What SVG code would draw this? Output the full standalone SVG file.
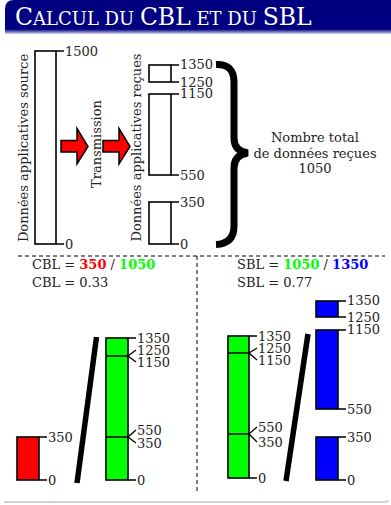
<svg xmlns="http://www.w3.org/2000/svg" width="391" height="505" viewBox="0 0 391 505">
<defs>
<linearGradient id="tg" x1="0" y1="0" x2="0" y2="1">
<stop offset="0" stop-color="#000080"/>
<stop offset="0.86" stop-color="#000080"/>
<stop offset="1" stop-color="#d4d4ee"/>
</linearGradient>
<style>
text{font-family:"DejaVu Serif","Liberation Serif",serif;font-size:13px;fill:#222}
.title{fill:#fff;font-size:18px}
.big{font-size:23.5px}
.box{stroke:#000;stroke-width:1.6;fill:#fff}
.tick{stroke:#000;stroke-width:1.3;fill:none}
.r{fill:#ff0000}.g{fill:#00ff00}.b{fill:#0000ff}
.bold{font-weight:bold}
.dash{stroke:#000;stroke-width:1;stroke-dasharray:4,3;fill:none}
.slash{stroke:#000;stroke-width:5.5}
.arrow{fill:#ff0000;stroke:#000;stroke-width:1.5;stroke-linejoin:miter}
</style>
</defs>
<g id="titlebar">
<path d="M5,34 L5,9 Q5,0 14,0 L391,0 L391,34 Z" fill="url(#tg)"/>
<text class="title" x="15" y="25"><tspan class="big">C</tspan>ALCUL DU <tspan class="big">CBL</tspan> ET DU <tspan class="big">SBL</tspan></text>
</g>
<path d="M4,502 L386,502 Q388,502 388,500" stroke="#c4c4c4" stroke-width="1.5" fill="none"/>
<g id="source">
<rect class="box" x="35" y="51" width="21" height="193"/>
<path class="tick" d="M56,51H64M56,244H64"/>
<text x="65" y="56">1500</text>
<text x="65" y="249">0</text>
<text transform="translate(27.5,148) rotate(-90)" text-anchor="middle">Données applicatives source</text>
</g>
<g id="transmission">
<polygon class="arrow" points="61,140.5 77,140.5 77,128.5 88,146.5 77,164 77,152 61,152"/>
<text transform="translate(100.5,144) rotate(-90)" text-anchor="middle">Transmission</text>
<polygon class="arrow" points="103,140.5 119,140.5 119,128.5 130,146.5 119,164 119,152 103,152"/>
</g>
<g id="received">
<text transform="translate(140.5,147.5) rotate(-90)" text-anchor="middle">Données applicatives reçues</text>
<rect class="box" x="149" y="65" width="22" height="17"/>
<rect class="box" x="149" y="94" width="22" height="81"/>
<rect class="box" x="149" y="202" width="22" height="42"/>
<path class="tick" d="M171,65H179M171,82H179M171,94H179M171,175H179M171,202H179M171,244H179"/>
<text x="180" y="69">1350</text>
<text x="180" y="87">1250</text>
<text x="180" y="98">1150</text>
<text x="180" y="180">550</text>
<text x="180" y="207">350</text>
<text x="180" y="249">0</text>
</g>
<g id="total">
<path d="M216,64.5 C228,64 234,70 234,82 L234,138 C234,148 240,152 248,153 C240,154 234,158 234,168 L234,226 C234,238 228,244 216,244.5" stroke="#000" stroke-width="7" fill="none"/>
<text x="315" y="142" text-anchor="middle">Nombre total</text>
<text x="315" y="158" text-anchor="middle">de données reçues</text>
<text x="315" y="173" text-anchor="middle">1050</text>
</g>
<g id="separators">
<path class="dash" d="M18,256H385"/>
<path class="dash" d="M197,256V494"/>
</g>
<g id="cbl">
<text x="32" y="269">CBL = <tspan class="r bold">350</tspan> / <tspan class="g bold">1050</tspan></text>
<text x="32" y="287">CBL = 0.33</text>
<rect class="box r" x="17" y="437" width="22" height="43"/>
<path class="tick" d="M39,437H47M39,480H47"/>
<text x="48" y="442">350</text>
<text x="48" y="485">0</text>
<line class="slash" x1="96.5" y1="337" x2="77" y2="483"/>
<rect class="box g" x="106" y="338" width="22" height="142"/>
<path class="tick" d="M106,356H128M106,437H128M128,338H136M128,480H136M136,350L128,356L136,362M136,430L128,437L136,443"/>
<text x="137" y="343">1350</text>
<text x="137" y="355">1250</text>
<text x="137" y="367">1150</text>
<text x="137" y="435">550</text>
<text x="137" y="448">350</text>
<text x="137" y="485">0</text>
</g>
<g id="sbl">
<text x="237" y="269">SBL = <tspan class="g bold">1050</tspan> / <tspan class="b bold">1350</tspan></text>
<text x="237" y="287">SBL = 0.77</text>
<rect class="box g" x="228" y="336" width="21" height="142"/>
<path class="tick" d="M228,353H249M228,434H249M249,336H257M249,478H257M257,348L249,353L257,360M257,427L249,434L257,442"/>
<text x="258" y="341">1350</text>
<text x="258" y="353">1250</text>
<text x="258" y="365">1150</text>
<text x="258" y="432">550</text>
<text x="258" y="447">350</text>
<text x="258" y="483">0</text>
<line class="slash" x1="308" y1="334" x2="286" y2="481"/>
<rect class="box b" x="316" y="301" width="22" height="16"/>
<rect class="box b" x="316" y="330" width="22" height="79"/>
<rect class="box b" x="316" y="437" width="22" height="43"/>
<path class="tick" d="M338,301H346M338,317H346M338,330H346M338,409H346M338,437H346M338,480H346"/>
<text x="347" y="305">1350</text>
<text x="347" y="322">1250</text>
<text x="347" y="334">1150</text>
<text x="347" y="414">550</text>
<text x="347" y="442">350</text>
<text x="347" y="485">0</text>
</g>
</svg>
